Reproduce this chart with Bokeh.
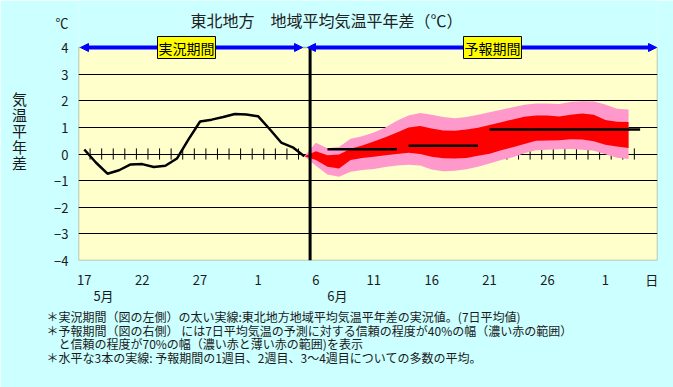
from bokeh.plotting import figure
from bokeh.models import (Label, Arrow, NormalHead, FixedTicker, Range1d, LinearAxis,
                          BoxAnnotation, Title)
from bokeh.embed import file_html
from bokeh.resources import INLINE

# ---------------- data ----------------
# category index 0..49 = 17 May .. 5 July (one category per day)
n_days = 50
tick_pos = [0, 5, 10, 15, 20, 25, 30, 35, 40, 45, 49]
tick_text = ["17", "22", "27", "1", "6", "11", "16", "21", "26", "1", "日"]
month_pos = [1.66, 21.86]
month_text = ["5月", "6月"]
y_ticks = [-4, -3, -2, -1, 0, 1, 2, 3, 4]
unit_tick = 4.94
unit_text = "℃"

# observed 7-day mean anomaly (17 May .. 5 June)
obs_day = list(range(0, 20))
obs_anom = [0.17, -0.32, -0.74, -0.61, -0.39, -0.38, -0.49, -0.44, -0.17, 0.55,
            1.22, 1.29, 1.39, 1.50, 1.48, 1.42, 0.94, 0.43, 0.25, -0.08]

# forecast ranges (5 June .. 3 July)
fc_day = list(range(19, 48))
p70_low = [-0.08, -0.44, -0.77, -0.85, -0.67, -0.60, -0.56, -0.49, -0.43, -0.40,
           -0.43, -0.58, -0.65, -0.63, -0.57, -0.48, -0.36, -0.23, -0.12, 0.03,
           0.14, 0.16, 0.18, 0.19, 0.16, 0.12, -0.01, -0.14, -0.19]
p40_low = [-0.08, -0.23, -0.48, -0.54, -0.23, -0.15, -0.10, -0.05, 0.00, 0.05,
           0.00, -0.10, -0.16, -0.17, -0.15, -0.07, 0.01, 0.14, 0.25, 0.38,
           0.50, 0.51, 0.52, 0.55, 0.54, 0.48, 0.35, 0.28, 0.23]
p40_high = [-0.08, 0.10, -0.05, -0.02, 0.20, 0.32, 0.47, 0.63, 0.81, 1.00,
            1.05, 0.96, 0.88, 0.87, 0.92, 0.99, 1.09, 1.19, 1.30, 1.40,
            1.45, 1.45, 1.41, 1.47, 1.52, 1.47, 1.28, 1.21, 1.20]
p70_high = [-0.08, 0.42, 0.22, 0.26, 0.57, 0.67, 0.81, 1.00, 1.25, 1.45,
            1.54, 1.47, 1.39, 1.34, 1.39, 1.47, 1.57, 1.66, 1.76, 1.85,
            1.90, 1.90, 1.88, 1.95, 1.98, 1.97, 1.86, 1.70, 1.67]

# ensemble means: week 1, week 2, weeks 3-4
week_start = [21, 28, 35]
week_end = [27, 34, 48]
week_mean = [0.18, 0.31, 0.92]

last_obs_boundary = 19.5

notes = [
    "＊実況期間（図の左側）の太い実線:東北地方地域平均気温平年差の実況値。(7日平均値)",
    "＊予報期間（図の右側） には7日平均気温の予測に対する信頼の程度が40%の幅（濃い赤の範囲）",
    "　と信頼の程度が70%の幅（濃い赤と薄い赤の範囲)を表示",
    "＊水平な3本の実線: 予報期間の1週目、2週目、3～4週目についての多数の平均。",
]

# ---------------- layout ----------------
W, H = 673, 387
PL_LEFT, PL_RIGHT, PL_TOP, PL_BOTTOM = 78, 657, 47, 260   # plot area in pixels
CW = (PL_RIGHT - PL_LEFT) / n_days
UH = (PL_BOTTOM - PL_TOP) / 8.0
Y_TOP = 4 + PL_TOP / UH          # frame reaches the top of the canvas


def fx(px):  # pixel -> data x
    return (px - PL_LEFT) / CW - 0.5


def fy(py):  # pixel -> data y
    return 4 - (py - PL_TOP) / UH


JP = "Noto Sans CJK JP"
BG = "#CCFFFF"
TXT = "#1a1a1a"

p = figure(width=W, height=H, output_backend="svg", toolbar_location=None, title=None,
           x_range=Range1d(-0.5, n_days - 0.5), y_range=Range1d(-4, Y_TOP),
           min_border_left=PL_LEFT, min_border_right=W - PL_RIGHT,
           min_border_top=0, min_border_bottom=H - PL_BOTTOM,
           background_fill_color=BG, border_fill_color=BG,
           outline_line_color=None)

# plot area (yellow, black frame)
p.add_layout(BoxAnnotation(left=-0.5, right=n_days - 0.5, bottom=-4, top=4,
                           fill_color="#FFFFCC", fill_alpha=1.0,
                           line_color="black", line_width=1.5, level="image"))

# axes
p.xaxis.ticker = FixedTicker(ticks=tick_pos)
p.xaxis.major_label_overrides = {t: s for t, s in zip(tick_pos, tick_text)}
p.yaxis.ticker = FixedTicker(ticks=y_ticks + [unit_tick])
p.yaxis.major_label_overrides = {unit_tick: unit_text}
month_axis = LinearAxis(ticker=FixedTicker(ticks=month_pos),
                        major_label_overrides={t: s for t, s in zip(month_pos, month_text)})
p.add_layout(month_axis, "below")
for ax in (p.xaxis[0], p.yaxis[0], month_axis):
    ax.axis_line_color = None
    ax.major_tick_line_color = None
    ax.minor_tick_line_color = None
    ax.major_tick_out = 0
    ax.major_tick_in = 0
    ax.major_label_text_font = JP
    ax.major_label_text_font_size = "13px"
    ax.major_label_text_color = TXT
p.xaxis[0].major_label_standoff = 9
month_axis.major_label_standoff = -6
p.yaxis.major_label_standoff = 10

p.yaxis.axis_label = "気\n温\n平\n年\n差"
p.yaxis.axis_label_orientation = "horizontal"
p.yaxis.axis_label_text_font = JP
p.yaxis.axis_label_text_font_size = "15px"
p.yaxis.axis_label_text_font_style = "normal"
p.yaxis.axis_label_text_color = TXT
p.yaxis.axis_label_text_line_height = 0.76
p.yaxis.axis_label_standoff = 24

p.xgrid.grid_line_color = None
p.ygrid.ticker = FixedTicker(ticks=[-3, -2, -1, 0, 1, 2, 3])
p.ygrid.grid_line_color = "black"
p.ygrid.grid_line_width = 1

# day ticks on the zero line (category boundaries)
tick_x = [d + 0.5 for d in range(n_days - 2)]
p.segment(x0=tick_x, y0=[-0.21] * len(tick_x), x1=tick_x, y1=[0.21] * len(tick_x),
          line_color="black", line_width=1)

# forecast bands
p.varea(x=fc_day, y1=p70_low, y2=p70_high, fill_color="#FF99CC")
p.varea(x=fc_day, y1=p40_low, y2=p40_high, fill_color="#FF0000")

# week means
p.segment(x0=week_start, y0=week_mean, x1=week_end, y1=week_mean,
          line_color="black", line_width=2.5)

# observed
p.line(obs_day, obs_anom, line_color="black", line_width=2.5)

# separator between observed and forecast periods
p.segment(x0=[last_obs_boundary], y0=[-4], x1=[last_obs_boundary], y1=[4],
          line_color="black", line_width=3)

# period arrows
blue = "#0000FF"
for xs, xe in ((fx(80), fx(302)), (fx(307), fx(656))):
    p.add_layout(Arrow(start=NormalHead(size=8, fill_color=blue, line_color=blue),
                       end=NormalHead(size=8, fill_color=blue, line_color=blue),
                       x_start=xs, y_start=4, x_end=xe, y_end=4,
                       line_color=blue, line_width=4))

for cx, txt in ((fx(186), "実況期間"), (fx(492), "予報期間")):
    p.add_layout(Label(x=cx, y=fy(47), text=txt, text_align="center",
                       text_baseline="middle", text_font=JP, text_font_size="14px",
                       text_color="black", background_fill_color="#FFFF00",
                       border_line_color="black", border_line_width=1, padding=1))

# title
p.add_layout(Label(x=fx(326), y=fy(19), text="東北地方　地域平均気温平年差（℃）",
                   text_align="center", text_baseline="middle", text_font=JP,
                   text_font_size="16px", text_color="#222222"))

# footnotes
p.add_layout(Title(text="\n".join(notes), align="left", offset=46 - PL_LEFT,
                   text_font=JP, text_font_size="12px", text_font_style="normal",
                   text_color=TXT, text_line_height=0.8, standoff=-3), "below")

open("out.html", "w").write(file_html(p, INLINE))
